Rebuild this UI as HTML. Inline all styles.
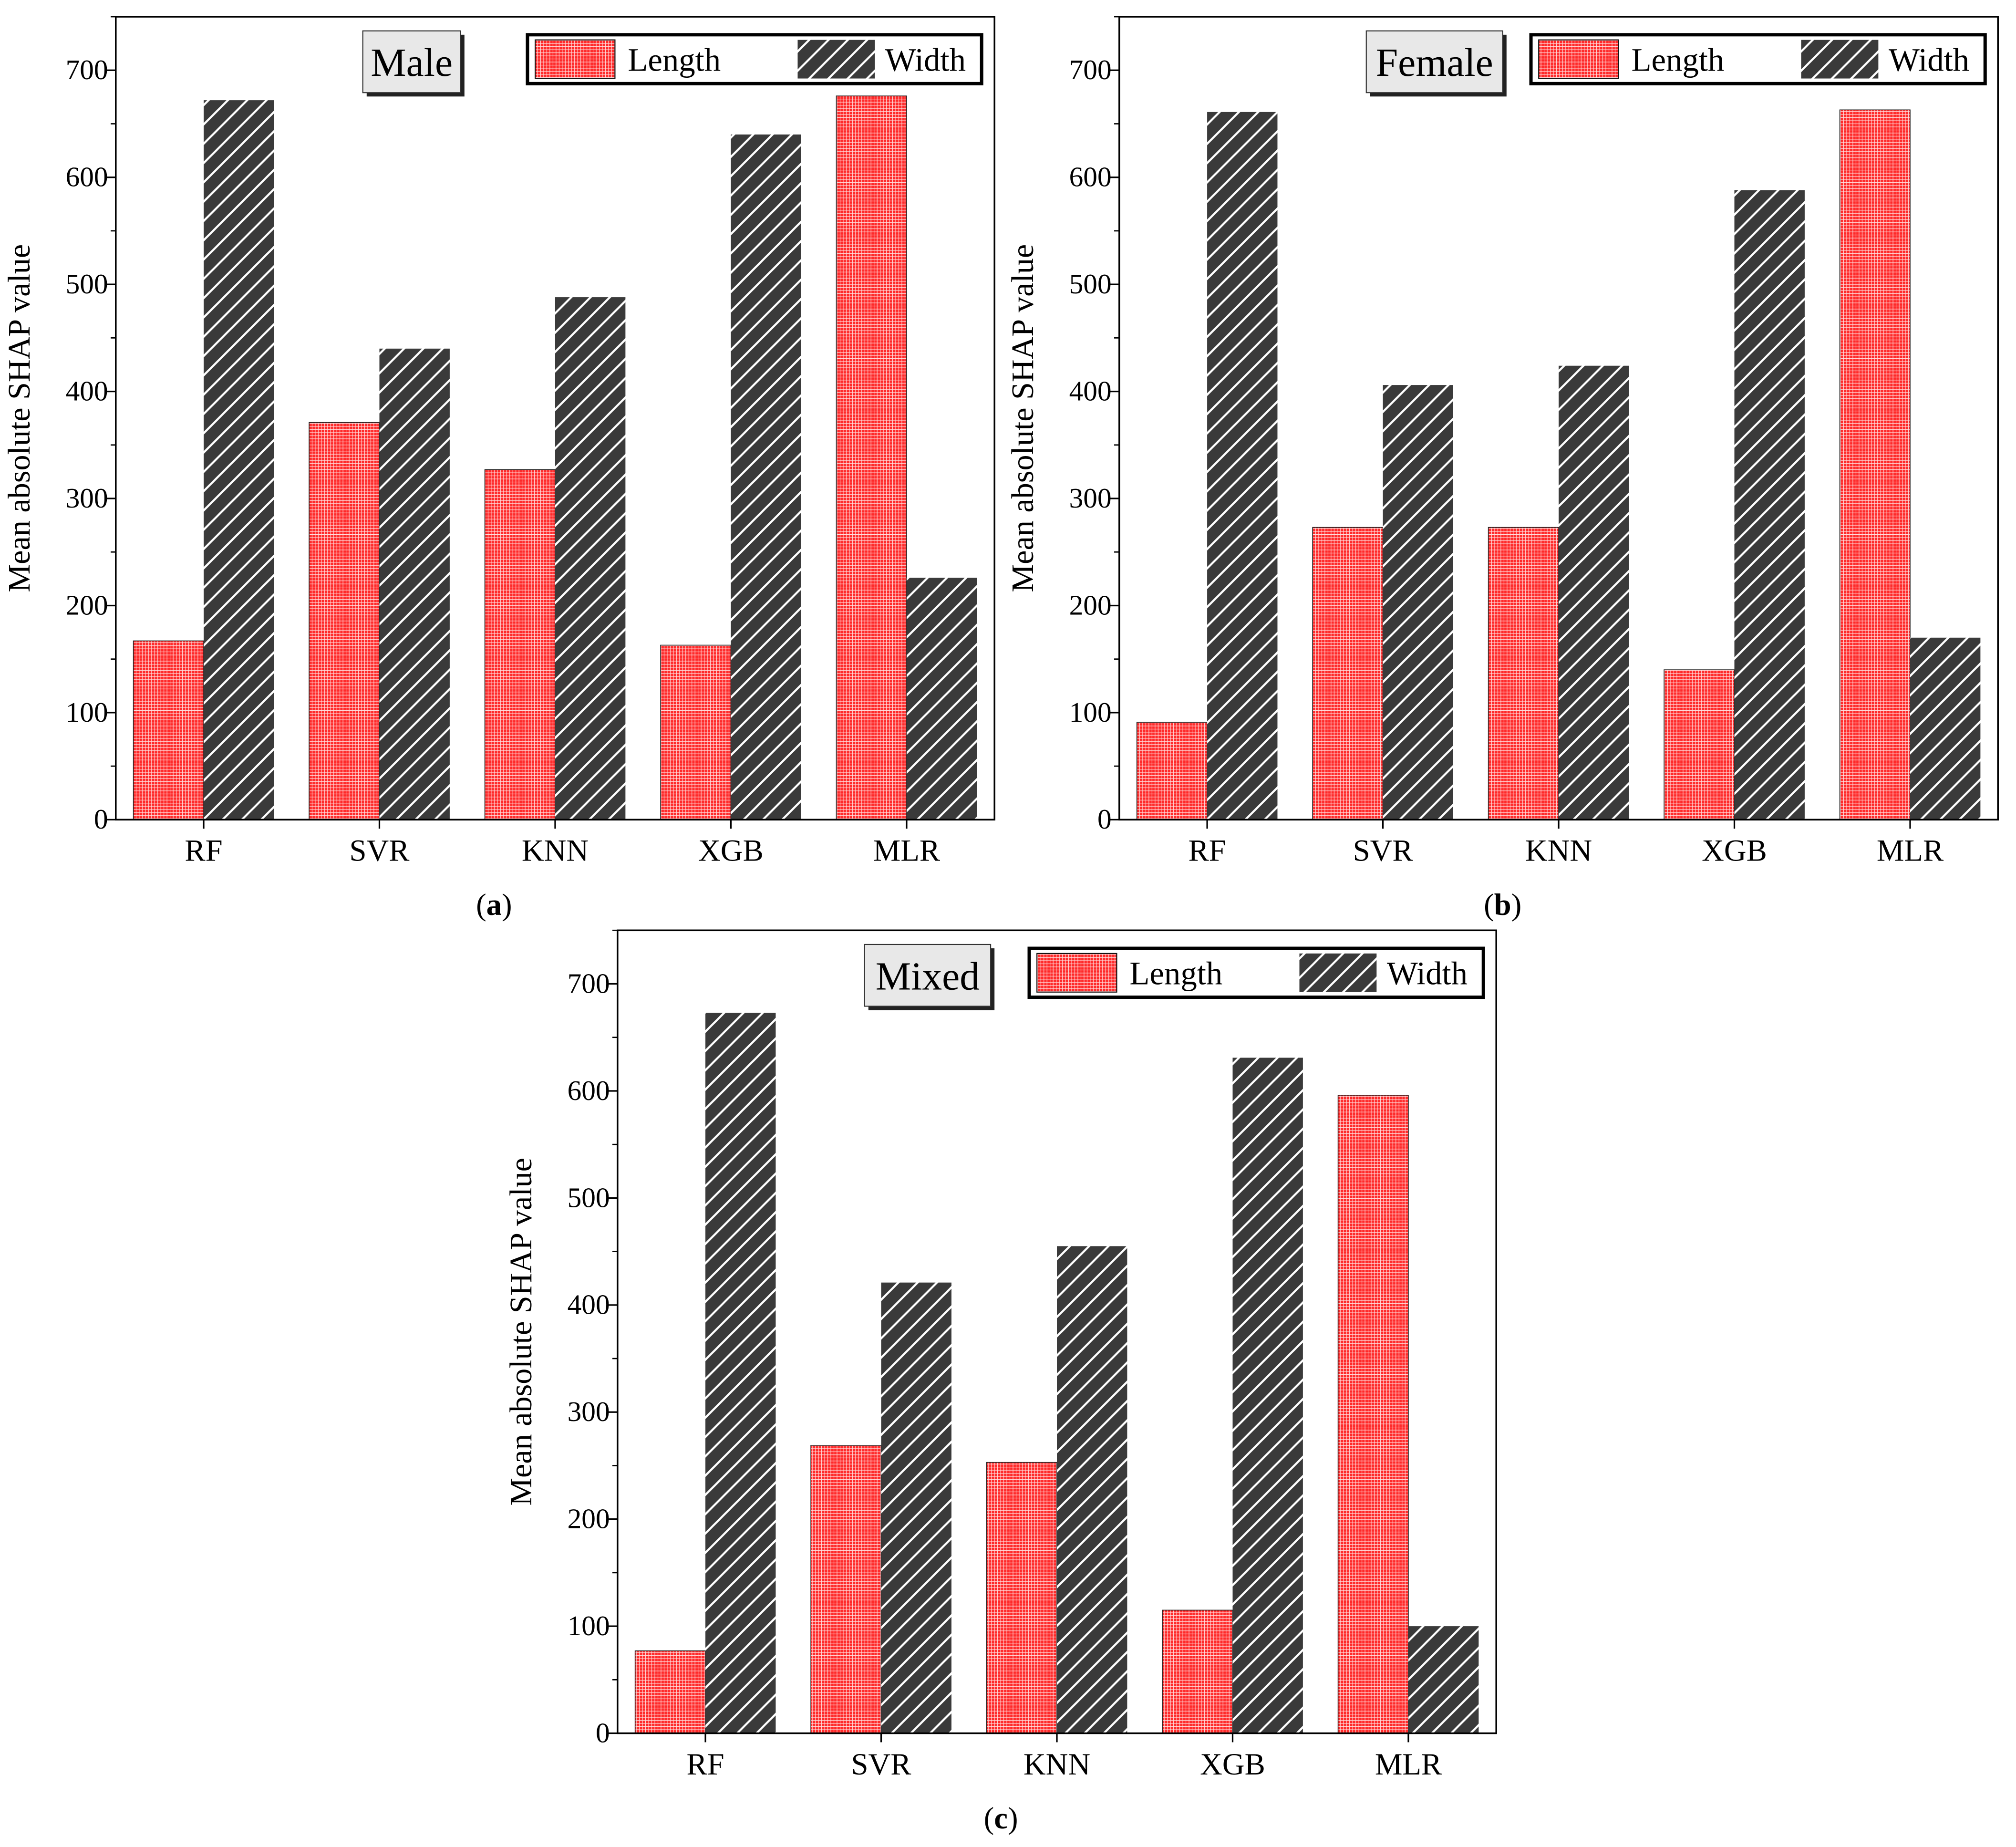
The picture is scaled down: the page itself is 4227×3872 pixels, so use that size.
<!DOCTYPE html>
<html><head><meta charset="utf-8"><style>html,body{margin:0;padding:0;background:#fff}svg{display:block}text{font-family:"Liberation Serif",serif}</style></head>
<body>
<svg id="fig" xmlns="http://www.w3.org/2000/svg" width="4227" height="3872" viewBox="0 0 1567 1435.4">
<defs>
<pattern id="grid" patternUnits="userSpaceOnUse" width="2.4" height="2.4"><rect width="2.4" height="2.4" fill="#ff2a2a"/><path d="M0 0.2H2.4M0.2 0V2.4" stroke="#fff" stroke-width="0.4" stroke-opacity="0.85"/></pattern>
<pattern id="hatch" patternUnits="userSpaceOnUse" width="15" height="15"><rect width="15" height="15" fill="#3a3a3a"/><path d="M-2 17L17 -2M-2 2L2 -2M13 17L17 13" stroke="#fff" stroke-width="1.6"/></pattern>
</defs>
</svg>
<script>
const categories=["RF","SVR","KNN","XGB","MLR"];
const maleLength=[167,371,327,163,676];
const maleWidth=[672,440,488,640,226];
const femaleLength=[91,273,273,140,663];
const femaleWidth=[661,406,424,588,170];
const mixedLength=[77,269,253,115,596];
const mixedWidth=[673,421,455,631,100];
const yTicks=[0,100,200,300,400,500,600,700];
const NS="http://www.w3.org/2000/svg";
const svg=document.getElementById('fig');
function mk(tag,attrs,parent,txt){const e=document.createElementNS(NS,tag);for(const k in attrs)e.setAttribute(k,attrs[k]);if(txt!==undefined)e.textContent=txt;parent.appendChild(e);return e;}
function panel(id,L,T,title,tb,lg,len,wid,cap,capX,capY){
  const R=L+683,B=T+624,g=mk('g',{},svg);
  
  
  const y=v=>B-(v/750)*(B-T);
  const step=(R-L)/categories.length;
  const x=i=>L+step*(i+0.5);
  const bw=step*0.4;
  categories.forEach((c,i)=>{
    const r1=mk('rect',{x:x(i)-bw,y:y(len[i]),width:bw,height:B-y(len[i]),fill:'url(#grid)',stroke:'#222','stroke-width':0.6},g);
    
    
    const r2=mk('rect',{x:x(i),y:y(wid[i]),width:bw,height:B-y(wid[i]),fill:'url(#hatch)'},g);
    
    
    mk('line',{x1:x(i),x2:x(i),y1:B,y2:B+7,stroke:'#000','stroke-width':1.2},g);
    const t=mk('text',{x:x(i),y:B+32,'text-anchor':'middle','font-size':24},g,c);
    
    
  });
  const fr=mk('rect',{x:L,y:T,width:R-L,height:B-T,fill:'none',stroke:'#000','stroke-width':1.3},g);
  
  
  yTicks.forEach(v=>{
    mk('line',{x1:L-7,x2:L,y1:y(v),y2:y(v),stroke:'#000','stroke-width':1.2},g);
    mk('line',{x1:L-4,x2:L,y1:y(v+50),y2:y(v+50),stroke:'#000','stroke-width':1},g);
    const t=mk('text',{x:L-6,y:y(v)+7,'text-anchor':'end','font-size':22},g,v);
    
    
  });
  const yt=mk('text',{x:0,y:0,transform:`translate(${L-67},${(T+B)/2}) rotate(-90)`,'text-anchor':'middle','font-size':24.5},g,'Mean absolute SHAP value');
  
  
  mk('rect',{x:tb[0]+3,y:T+14,width:tb[1]-tb[0],height:48,fill:'#222'},g);
  const tr=mk('rect',{x:tb[0],y:T+11,width:tb[1]-tb[0],height:48,fill:'#e8e8e8',stroke:'#333','stroke-width':0.8},g);
  
  
  const tt=mk('text',{x:(tb[0]+tb[1])/2,y:T+46,'text-anchor':'middle','font-size':31},g,title);
  
  
  const lgg=mk('g',{},g);
  
  
  mk('rect',{x:lg,y:T+14,width:353,height:38,fill:'#fff',stroke:'#000','stroke-width':2.6},lgg);
  mk('rect',{x:lg+6,y:T+18,width:62,height:30,fill:'url(#grid)',stroke:'#111','stroke-width':0.8},lgg);
  mk('text',{x:lg+78,y:T+42,'font-size':25.5},lgg,'Length');
  mk('rect',{x:lg+210,y:T+18,width:60,height:30,fill:'url(#hatch)'},lgg);
  mk('text',{x:lg+278,y:T+42,'font-size':25.5},lgg,'Width');
  const ct=mk('text',{x:capX,y:capY,'text-anchor':'middle','font-size':24},svg);
  
  
  ct.innerHTML='(<tspan font-weight="bold">'+cap+'</tspan>)';
}
panel('a',90,13,'Male',[282,358],410,maleLength,maleWidth,'a',384,711);
panel('b',870,13,'Female',[1062,1168],1190,femaleLength,femaleWidth,'b',1168,711);
panel('c',480,723,'Mixed',[672,770],800,mixedLength,mixedWidth,'c',778,1421);
</script>
</body></html>
